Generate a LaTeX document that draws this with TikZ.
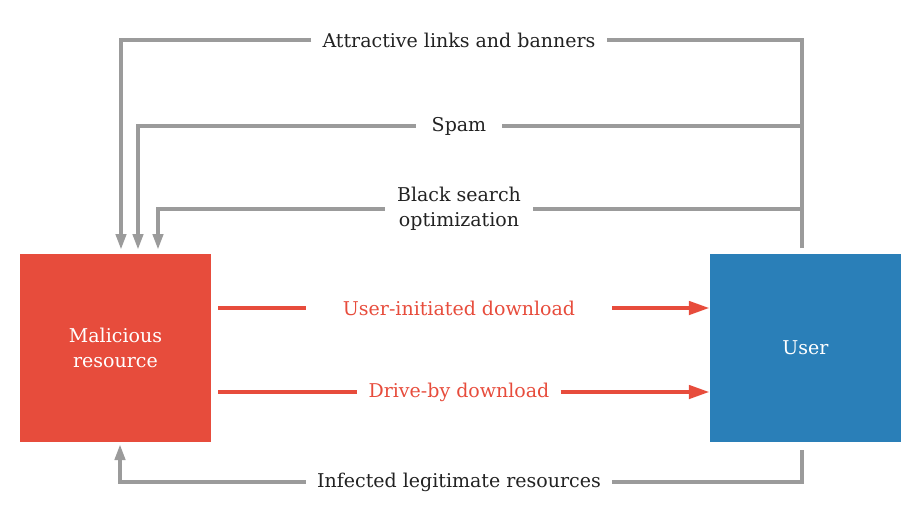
\documentclass[tikz,border=0pt]{standalone}
\usepackage{fontspec}
\setmainfont{DejaVu Serif}
\usetikzlibrary{arrows.meta}
\definecolor{malred}{HTML}{E74C3C}
\definecolor{userblue}{HTML}{2A7FB8}
\definecolor{linegray}{HTML}{9B9B9B}
\definecolor{textdark}{HTML}{222222}
\tikzset{
	box/.style={minimum width=191pt,minimum height=188pt,inner sep=0pt,text=white,align=center},
	lbl/.style={text=textdark,align=center,inner ysep=0pt,inner xsep=11pt},
	redlbl/.style={lbl,text=malred},
	gline/.style={draw=linegray,line width=4pt},
	garrow/.style={gline,-{Triangle[length=16pt,width=10pt]}},
	rline/.style={draw=malred,line width=4.5pt},
	rarrow/.style={rline,-{Triangle[length=21pt,width=13pt]}}
}
\begin{document}
\begin{tikzpicture}[x=1pt,y=-1pt,font=\fontsize{19}{25}\selectfont]
	\useasboundingbox (0,0) rectangle (916,523);
	\node[box,fill=malred] (mal) at (115.5,348) {Malicious\\resource};
	\node[box,fill=userblue] (user) at (805.5,348) {User};
	% labels
	\node[lbl] (ads) at (459,40) {Attractive links and banners};
	\node[lbl,inner xsep=16pt] (spam) at (459,126) {Spam};
	\node[lbl,inner xsep=12pt] (seo) at (459,209) {Black search\\optimization};
	\node[lbl] (inf) at (459,482) {Infected legitimate resources};
	\node[redlbl,inner xsep=37pt] (uid) at (459,308) {User-initiated download};
	\node[redlbl] (dbd) at (459,392) {Drive-by download};
	% junctions
	\coordinate (t1) at (802,40);
	\coordinate (t2) at (802,126);
	\coordinate (t3) at (802,209);
	\coordinate (t4) at (802,248);
	\coordinate (b1) at (802,450);
	\coordinate (in1) at (121,250);
	\coordinate (in2) at (138,250);
	\coordinate (in3) at (158,250);
	\coordinate (in4) at (120,444);
	% gray
	\draw[gline] (t4) -- (t1) -- (ads.east);
	\draw[gline] (t2) -- (spam.east);
	\draw[gline] (t3) -- (seo.east);
	\draw[garrow] (ads.west) -| (in1);
	\draw[garrow] (spam.west) -| (in2);
	\draw[garrow] (seo.west) -| (in3);
	\draw[gline] (b1) |- (inf.east);
	\draw[garrow] (inf.west) -| (in4);
	% red
	\draw[rline] (mal.east |- uid) ++(7,0) -- (uid.west);
	\draw[rarrow] (uid.east) -- (user.west |- uid);
	\draw[rline] (mal.east |- dbd) ++(7,0) -- (dbd.west);
	\draw[rarrow] (dbd.east) -- (user.west |- dbd);
\end{tikzpicture}
\end{document}
